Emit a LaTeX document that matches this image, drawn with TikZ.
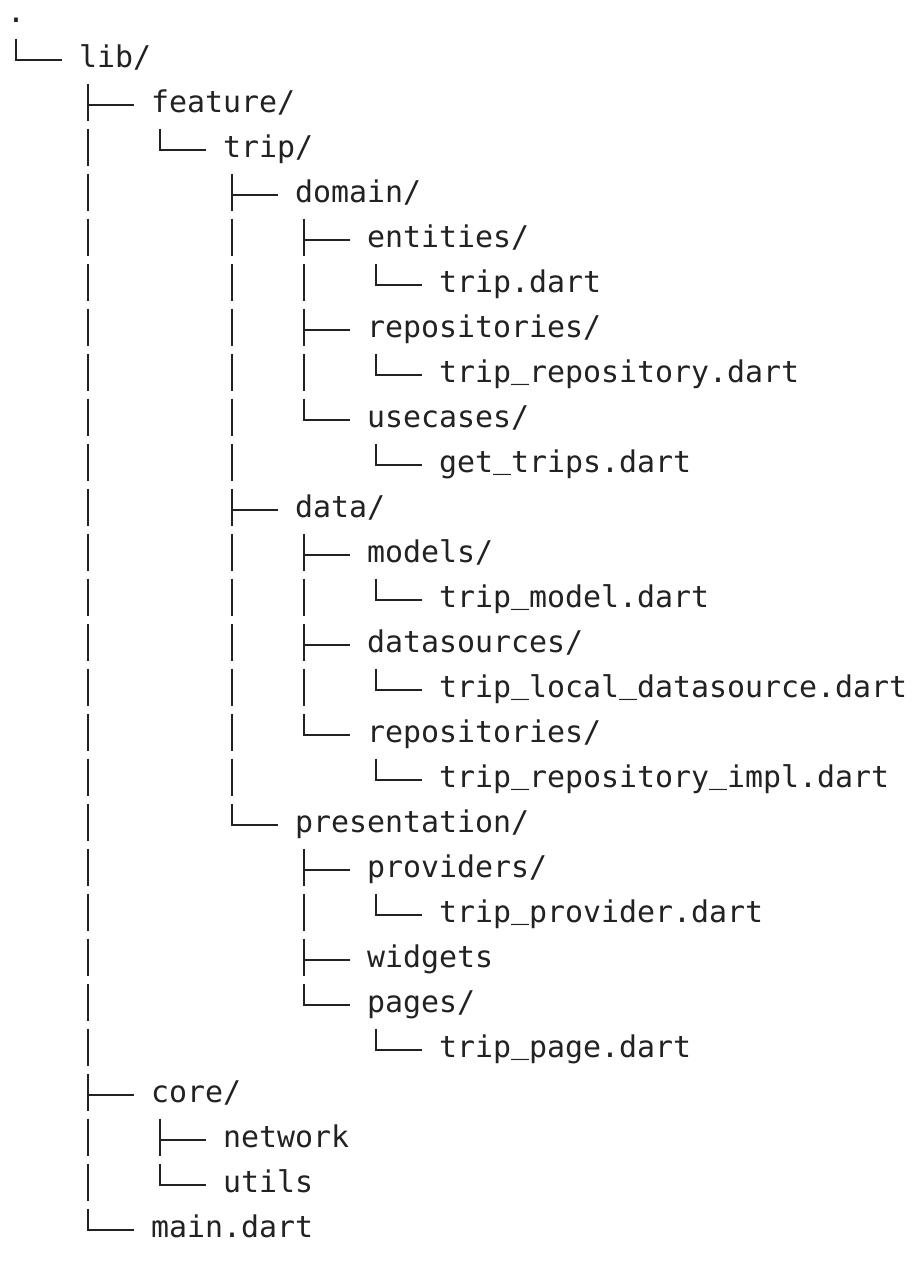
\documentclass[tikz,border=0pt]{standalone}
\usepackage{fontspec}
\usepackage{xcolor}
\usepackage{tikz}
\usetikzlibrary{calc}
\newfontfamily\treemono{DejaVu Sans Mono}
\newcommand\uscore{\raisebox{3.5pt}{\_}}
\definecolor{ink}{HTML}{222222}
\tikzstyle{entry} = [anchor=base west, inner sep=0pt, text=ink, font={\treemono\fontsize{29.9pt}{45pt}\selectfont}]
\tikzstyle{stem} = [draw=ink, line width=2pt, dash pattern=on 37pt off 8pt]
\tikzstyle{twig} = [draw=ink, line width=2pt]

\begin{document}
\begin{tikzpicture}[x=1pt, y=-1pt]
\useasboundingbox (0,0) rectangle (920,1272);

\node [entry] (t0) at (7+18*0, 22+45*0) {.};
\node [entry] (t1) at (7+18*4, 22+45*1) {lib/};
\node [entry] (t2) at (7+18*8, 22+45*2) {feature/};
\node [entry] (t3) at (7+18*12, 22+45*3) {trip/};
\path [stem] ($(t0.base west)+(9,16.5)$) -- ($(t0.base west |- t1.base west)+(9,-7.5)$);
\path [twig] ($(t0.base west |- t1.base west)+(8,-7.5)$) -- ($(t1.base west)+(-17,-7.5)$);
\path [twig] ($(t1.base west |- t2.base west)+(8,-7.5)$) -- ($(t2.base west)+(-17,-7.5)$);
\path [stem] ($(t2.base west)+(9,16.5)$) -- ($(t2.base west |- t3.base west)+(9,-7.5)$);
\path [twig] ($(t2.base west |- t3.base west)+(8,-7.5)$) -- ($(t3.base west)+(-17,-7.5)$);

\node [entry] (t4) at (7+18*16, 22+45*4) {domain/};
\node [entry] (t5) at (7+18*20, 22+45*5) {entities/};
\node [entry] (t6) at (7+18*24, 22+45*6) {trip.dart};
\node [entry] (t7) at (7+18*20, 22+45*7) {repositories/};
\node [entry] (t8) at (7+18*24, 22+45*8) {trip\uscore repository.dart};
\node [entry] (t9) at (7+18*20, 22+45*9) {usecases/};
\node [entry] (t10) at (7+18*24, 22+45*10) {get\uscore trips.dart};
\path [twig] ($(t3.base west |- t4.base west)+(8,-7.5)$) -- ($(t4.base west)+(-17,-7.5)$);
\path [stem] ($(t4.base west)+(9,16.5)$) -- ($(t4.base west |- t9.base west)+(9,-7.5)$);
\path [twig] ($(t4.base west |- t5.base west)+(8,-7.5)$) -- ($(t5.base west)+(-17,-7.5)$);
\path [twig] ($(t4.base west |- t7.base west)+(8,-7.5)$) -- ($(t7.base west)+(-17,-7.5)$);
\path [twig] ($(t4.base west |- t9.base west)+(8,-7.5)$) -- ($(t9.base west)+(-17,-7.5)$);
\path [stem] ($(t5.base west)+(9,16.5)$) -- ($(t5.base west |- t6.base west)+(9,-7.5)$);
\path [twig] ($(t5.base west |- t6.base west)+(8,-7.5)$) -- ($(t6.base west)+(-17,-7.5)$);
\path [stem] ($(t7.base west)+(9,16.5)$) -- ($(t7.base west |- t8.base west)+(9,-7.5)$);
\path [twig] ($(t7.base west |- t8.base west)+(8,-7.5)$) -- ($(t8.base west)+(-17,-7.5)$);
\path [stem] ($(t9.base west)+(9,16.5)$) -- ($(t9.base west |- t10.base west)+(9,-7.5)$);
\path [twig] ($(t9.base west |- t10.base west)+(8,-7.5)$) -- ($(t10.base west)+(-17,-7.5)$);

\node [entry] (t11) at (7+18*16, 22+45*11) {data/};
\node [entry] (t12) at (7+18*20, 22+45*12) {models/};
\node [entry] (t13) at (7+18*24, 22+45*13) {trip\uscore model.dart};
\node [entry] (t14) at (7+18*20, 22+45*14) {datasources/};
\node [entry] (t15) at (7+18*24, 22+45*15) {trip\uscore local\uscore datasource.dart};
\node [entry] (t16) at (7+18*20, 22+45*16) {repositories/};
\node [entry] (t17) at (7+18*24, 22+45*17) {trip\uscore repository\uscore impl.dart};
\path [twig] ($(t3.base west |- t11.base west)+(8,-7.5)$) -- ($(t11.base west)+(-17,-7.5)$);
\path [stem] ($(t11.base west)+(9,16.5)$) -- ($(t11.base west |- t16.base west)+(9,-7.5)$);
\path [twig] ($(t11.base west |- t12.base west)+(8,-7.5)$) -- ($(t12.base west)+(-17,-7.5)$);
\path [twig] ($(t11.base west |- t14.base west)+(8,-7.5)$) -- ($(t14.base west)+(-17,-7.5)$);
\path [twig] ($(t11.base west |- t16.base west)+(8,-7.5)$) -- ($(t16.base west)+(-17,-7.5)$);
\path [stem] ($(t12.base west)+(9,16.5)$) -- ($(t12.base west |- t13.base west)+(9,-7.5)$);
\path [twig] ($(t12.base west |- t13.base west)+(8,-7.5)$) -- ($(t13.base west)+(-17,-7.5)$);
\path [stem] ($(t14.base west)+(9,16.5)$) -- ($(t14.base west |- t15.base west)+(9,-7.5)$);
\path [twig] ($(t14.base west |- t15.base west)+(8,-7.5)$) -- ($(t15.base west)+(-17,-7.5)$);
\path [stem] ($(t16.base west)+(9,16.5)$) -- ($(t16.base west |- t17.base west)+(9,-7.5)$);
\path [twig] ($(t16.base west |- t17.base west)+(8,-7.5)$) -- ($(t17.base west)+(-17,-7.5)$);

\node [entry] (t18) at (7+18*16, 22+45*18) {presentation/};
\node [entry] (t19) at (7+18*20, 22+45*19) {providers/};
\node [entry] (t20) at (7+18*24, 22+45*20) {trip\uscore provider.dart};
\node [entry] (t21) at (7+18*20, 22+45*21) {widgets};
\node [entry] (t22) at (7+18*20, 22+45*22) {pages/};
\node [entry] (t23) at (7+18*24, 22+45*23) {trip\uscore page.dart};
\path [stem] ($(t3.base west)+(9,16.5)$) -- ($(t3.base west |- t18.base west)+(9,-7.5)$);
\path [twig] ($(t3.base west |- t18.base west)+(8,-7.5)$) -- ($(t18.base west)+(-17,-7.5)$);
\path [stem] ($(t18.base west)+(9,16.5)$) -- ($(t18.base west |- t22.base west)+(9,-7.5)$);
\path [twig] ($(t18.base west |- t19.base west)+(8,-7.5)$) -- ($(t19.base west)+(-17,-7.5)$);
\path [twig] ($(t18.base west |- t21.base west)+(8,-7.5)$) -- ($(t21.base west)+(-17,-7.5)$);
\path [twig] ($(t18.base west |- t22.base west)+(8,-7.5)$) -- ($(t22.base west)+(-17,-7.5)$);
\path [stem] ($(t19.base west)+(9,16.5)$) -- ($(t19.base west |- t20.base west)+(9,-7.5)$);
\path [twig] ($(t19.base west |- t20.base west)+(8,-7.5)$) -- ($(t20.base west)+(-17,-7.5)$);
\path [stem] ($(t22.base west)+(9,16.5)$) -- ($(t22.base west |- t23.base west)+(9,-7.5)$);
\path [twig] ($(t22.base west |- t23.base west)+(8,-7.5)$) -- ($(t23.base west)+(-17,-7.5)$);

\node [entry] (t24) at (7+18*8, 22+45*24) {core/};
\node [entry] (t25) at (7+18*12, 22+45*25) {network};
\node [entry] (t26) at (7+18*12, 22+45*26) {utils};
\node [entry] (t27) at (7+18*8, 22+45*27) {main.dart};
\path [stem] ($(t1.base west)+(9,16.5)$) -- ($(t1.base west |- t27.base west)+(9,-7.5)$);
\path [twig] ($(t1.base west |- t24.base west)+(8,-7.5)$) -- ($(t24.base west)+(-17,-7.5)$);
\path [stem] ($(t24.base west)+(9,16.5)$) -- ($(t24.base west |- t26.base west)+(9,-7.5)$);
\path [twig] ($(t24.base west |- t25.base west)+(8,-7.5)$) -- ($(t25.base west)+(-17,-7.5)$);
\path [twig] ($(t24.base west |- t26.base west)+(8,-7.5)$) -- ($(t26.base west)+(-17,-7.5)$);
\path [twig] ($(t1.base west |- t27.base west)+(8,-7.5)$) -- ($(t27.base west)+(-17,-7.5)$);
\end{tikzpicture}
\end{document}
